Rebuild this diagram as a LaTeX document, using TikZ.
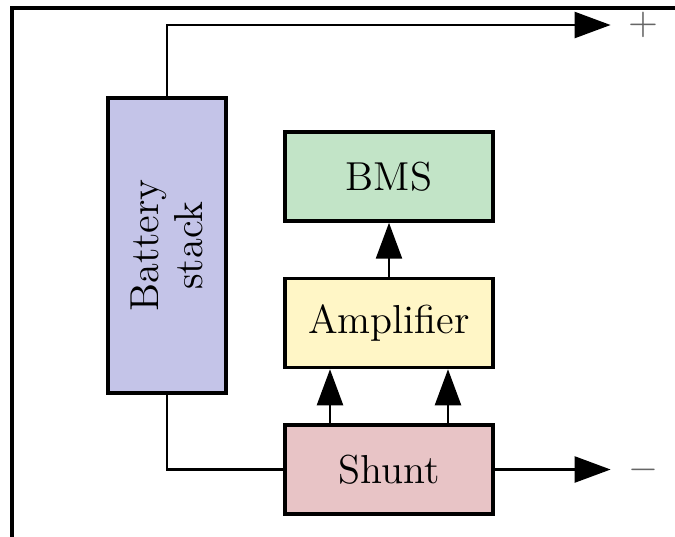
\documentclass[tikz,border=0pt]{standalone}
\usepackage{xcolor}
\usepackage{tikz}
\usetikzlibrary{arrows.meta, positioning, calc}
\definecolor{battfill}{RGB}{196,196,232}
\definecolor{bmsfill}{RGB}{194,228,199}
\definecolor{ampfill}{RGB}{255,246,198}
\definecolor{shuntfill}{RGB}{232,196,198}
\tikzstyle{unit}     = [rectangle, minimum width=2.08cm, minimum height=0.89cm,
                        text centered, draw=black, line width=1pt,
                        font=\fontsize{11.5}{13}\selectfont]
\tikzstyle{cell}     = [rectangle, minimum width=2.95cm, minimum height=1.18cm,
                        align=center, draw=black, line width=1pt, rotate=90,
                        fill=battfill, font=\fontsize{11.5}{12.5}\selectfont]
\tikzstyle{sign}     = [text=black!60, font=\fontsize{11}{12.5}\selectfont]
\tikzstyle{arr}      = [-{Triangle[length=0.36cm, width=0.26cm]}, line width=0.7pt]
\tikzstyle{wire}     = [line width=0.7pt]

\begin{document}
\begin{tikzpicture}[node distance=0.54cm]

  \useasboundingbox (0,0) rectangle (6.75,-5.36);
  \draw[line width=1pt] (0.12,-5.4) -- (0.12,-0.08) -- (6.8,-0.08);

  \node[cell] (batt) at (1.67,-2.455) {Battery\\stack};

  \node[unit, fill=shuntfill] (shunt) at (3.89,-4.695) {Shunt};
  \node[unit, fill=ampfill, above=of shunt] (amp) {Amplifier};
  \node[unit, fill=bmsfill, above=of amp] (bms) {BMS};

  \node[sign] (plus) at (6.43,-0.25) {$+$};
  \node[sign] (minus) at (6.43,-4.695) {$-$};

  \draw[arr, shorten >=0.05cm] (batt.east) |- (plus.west);
  \draw[wire] (batt.west) |- (shunt.west);
  \draw[arr, shorten >=0.05cm] (shunt.east) -- (minus.west);

  \draw[arr] ([xshift=-0.59cm]shunt.north) -- ([xshift=-0.59cm]amp.south);
  \draw[arr] ([xshift=0.59cm]shunt.north) -- ([xshift=0.59cm]amp.south);
  \draw[arr] (amp.north) -- (bms.south);

\end{tikzpicture}
\end{document}
